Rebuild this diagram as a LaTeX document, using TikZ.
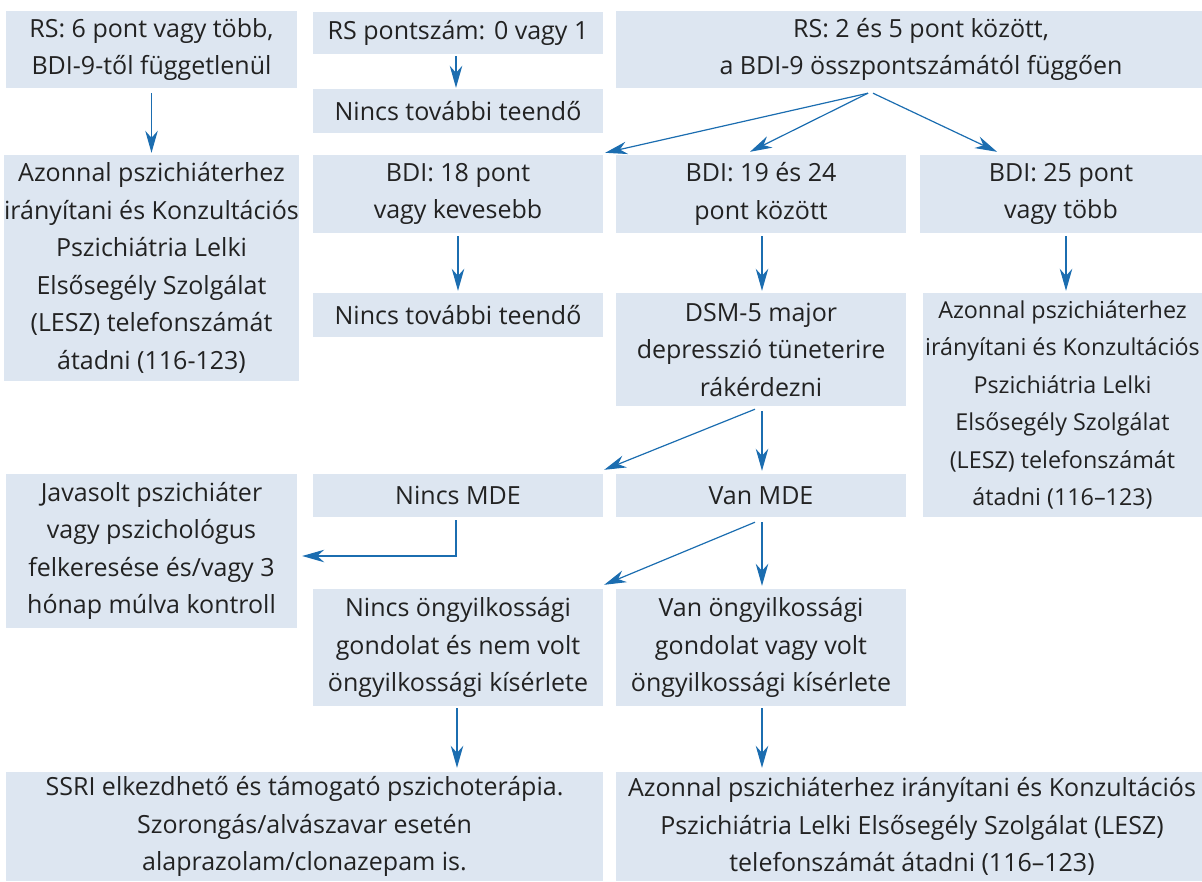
\documentclass[tikz,border=0pt]{standalone}
\usepackage{fontspec}
\setmainfont{Open Sans}
\usetikzlibrary{arrows.meta}
\definecolor{boxfill}{HTML}{DDE6F1}
\definecolor{arrowblue}{HTML}{1B6DB0}
\definecolor{txt}{HTML}{222222}
\tikzset{
  box/.style={fill=boxfill, draw=none, inner sep=0pt, align=center, text=txt,
    font=\fontsize{25}{37.5}\selectfont},
  arr/.style={draw=arrowblue, line width=1.2pt,
    -{Stealth[length=22pt, width=12.5pt, inset=7pt]}}
}
\begin{document}
\begin{tikzpicture}[x=1pt,y=-1pt]
\useasboundingbox (0,0) rectangle (1202,881);
% row 1
\node[box, minimum width=291pt, minimum height=77pt] (A) at (151.5,49.5) {RS: 6 pont vagy több,\\BDI-9-től függetlenül};
\node[box, minimum width=290pt, minimum height=42pt] (B) at (458,33) {RS pontszám: 0 vagy 1};
\node[box, minimum width=290pt, minimum height=44pt] (C) at (458,111) {Nincs további teendő};
\node[box, minimum width=610pt, minimum height=77pt] (D) at (921,49.5) {RS: 2 és 5 pont között,\\a BDI-9 összpontszámától függően};
% row 2
\node[box, minimum width=291pt, minimum height=226pt] (E) at (151.5,268) {Azonnal pszichiáterhez\\irányítani és Konzultációs\\Pszichiátria Lelki\\Elsősegély Szolgálat\\(LESZ) telefonszámát\\átadni (116-123)};
\node[box, minimum width=290pt, minimum height=78pt] (F) at (458,194) {BDI: 18 pont\\vagy kevesebb};
\node[box, minimum width=290pt, minimum height=78pt] (G) at (761,194) {BDI: 19 és 24\\pont között};
\node[box, minimum width=282pt, minimum height=78pt] (H) at (1061,194) {BDI: 25 pont\\vagy több};
% row 3
\node[box, minimum width=290pt, minimum height=44pt] (I) at (458,315) {Nincs további teendő};
\node[box, minimum width=290pt, minimum height=113pt] (J) at (761,349.5) {DSM-5 major\\depresszió tüneterire\\rákérdezni};
\node[box, minimum width=279pt, minimum height=224pt, font=\fontsize{23.3}{37.5}\selectfont] (K) at (1062.5,405) {Azonnal pszichiáterhez\\irányítani és Konzultációs\\Pszichiátria Lelki\\Elsősegély Szolgálat\\(LESZ) telefonszámát\\átadni (116–123)};
% row 4
\node[box, minimum width=291pt, minimum height=154pt] (L) at (151.5,551) {Javasolt pszichiáter\\vagy pszichológus\\felkeresése és/vagy 3\\hónap múlva kontroll};
\node[box, minimum width=290pt, minimum height=43pt] (M) at (458,495.5) {Nincs MDE};
\node[box, minimum width=290pt, minimum height=43pt] (N) at (761,495.5) {Van MDE};
% row 5
\node[box, minimum width=290pt, minimum height=117pt] (O) at (458,647.5) {Nincs öngyilkossági\\gondolat és nem volt\\öngyilkossági kísérlete};
\node[box, minimum width=290pt, minimum height=117pt] (P) at (761,647.5) {Van öngyilkossági\\gondolat vagy volt\\öngyilkossági kísérlete};
% row 6
\node[box, minimum width=597pt, minimum height=109pt] (Q) at (304.5,826.5) {SSRI elkezdhető és támogató pszichoterápia.\\Szorongás/alvászavar esetén\\alaprazolam/clonazepam is.};
\node[box, minimum width=592pt, minimum height=109pt] (R) at (912,826.5) {Azonnal pszichiáterhez irányítani és Konzultációs\\Pszichiátria Lelki Elsősegély Szolgálat (LESZ)\\telefonszámát átadni (116–123)};
% arrows
\draw[arr] ([yshift=-5pt]A.south) -- ([yshift=2pt]E.north);
\draw[arr] ([xshift=-2pt,yshift=-2pt]B.south) -- ([xshift=-2pt,yshift=1pt]C.north);
\draw[arr] ([xshift=-53pt,yshift=-5pt]D.south) -- ([xshift=2pt,yshift=2pt]F.north east);
\draw[arr] ([xshift=-53pt,yshift=-5pt]D.south) -- ([xshift=-11pt,yshift=3pt]G.north);
\draw[arr] ([xshift=-48pt,yshift=-5pt]D.south) -- ([xshift=-64pt,yshift=3pt]H.north);
\draw[arr] ([yshift=-3pt]F.south) -- ([yshift=2pt]I.north);
\draw[arr] ([xshift=1pt,yshift=-3pt]G.south) -- ([xshift=1pt,yshift=2pt]J.north);
\draw[arr] ([xshift=5pt,yshift=-3pt]H.south) -- ([xshift=3.5pt,yshift=2pt]K.north);
\draw[arr] ([xshift=-6pt,yshift=-3pt]J.south) -- ([xshift=1pt,yshift=4pt]M.north east);
\draw[arr] ([xshift=1pt,yshift=-5pt]J.south) -- ([xshift=1pt,yshift=3pt]N.north);
\draw[arr] ([xshift=-2pt,yshift=-3pt]M.south) |- ([xshift=5pt]L.east |- 0,556);
\draw[arr] ([xshift=-6pt,yshift=-5pt]N.south) -- ([xshift=1pt,yshift=4pt]O.north east);
\draw[arr] ([xshift=1pt,yshift=-5pt]N.south) -- ([xshift=1pt,yshift=3pt]P.north);
\draw[arr] ([xshift=-1pt,yshift=-2pt]O.south) -- ([xshift=-1pt,yshift=4pt]O.south |- Q.north);
\draw[arr] ([xshift=1pt,yshift=-2pt]P.south) -- ([xshift=1pt,yshift=4pt]P.south |- R.north);
\end{tikzpicture}
\end{document}
